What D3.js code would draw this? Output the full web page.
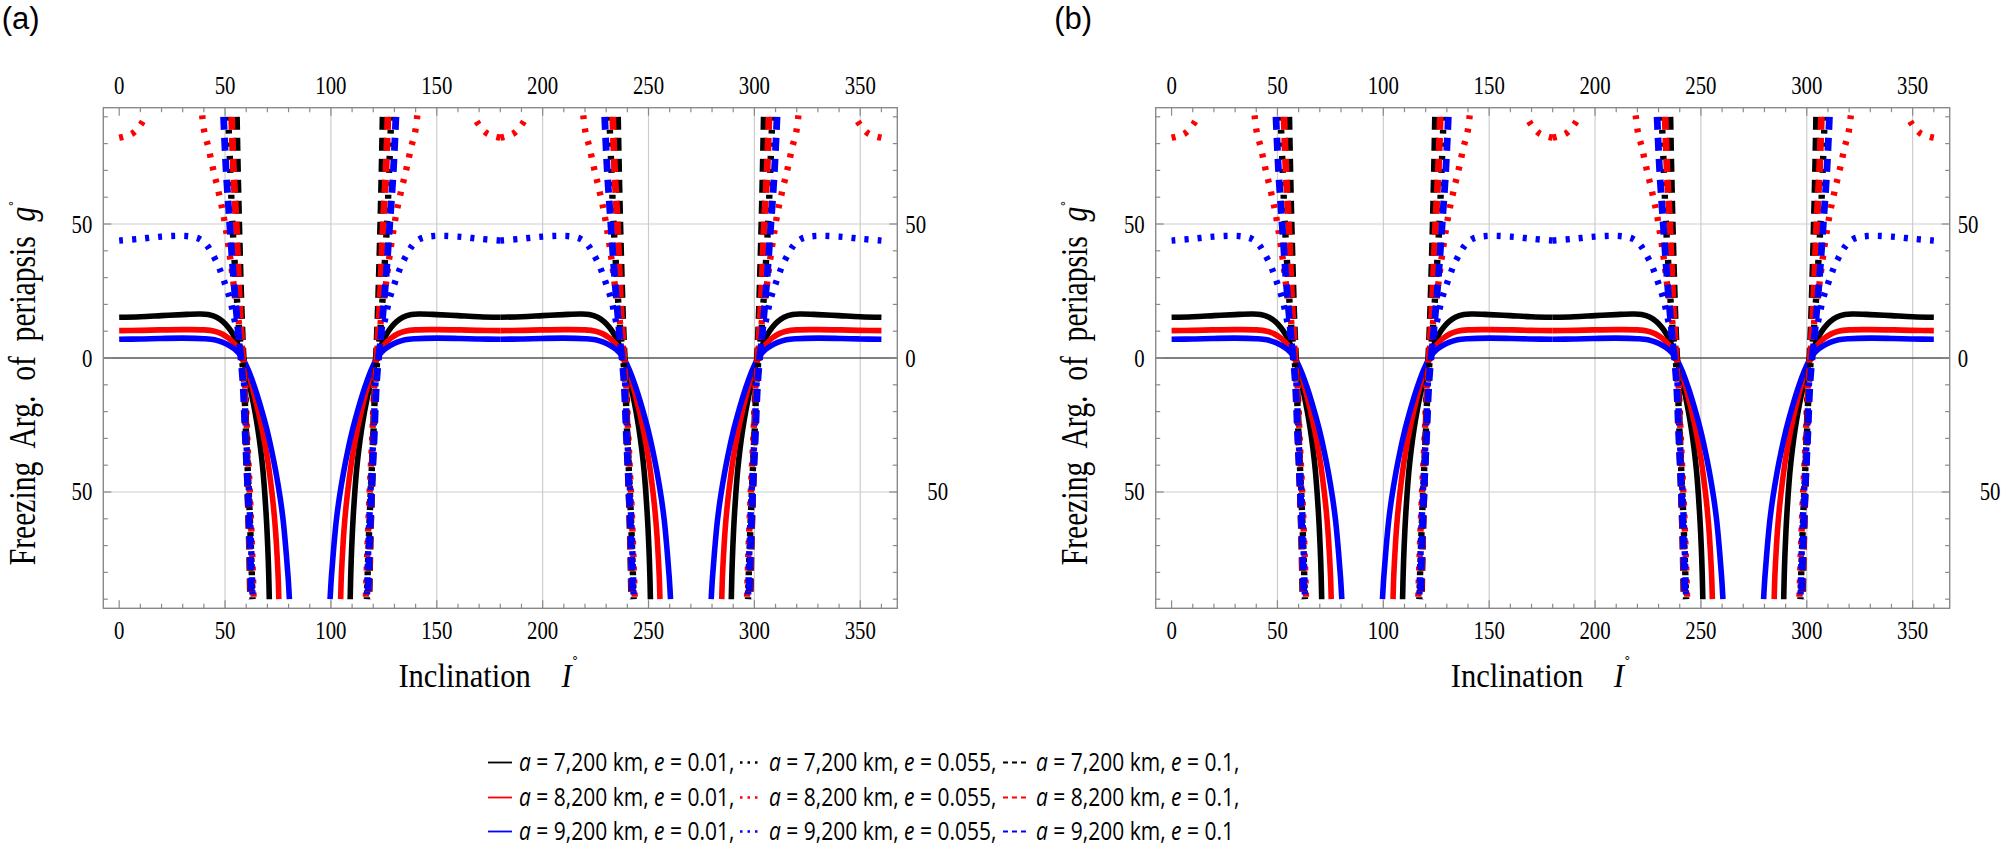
<!DOCTYPE html>
<html><head><meta charset="utf-8">
<script src="https://cdn.jsdelivr.net/npm/d3@7"></script>
<style>body{margin:0;background:#fff;} svg{display:block}</style>
</head><body>
<svg id="chart" width="2005" height="848"></svg>
<script>
// ================= DATA =================
// Tick values / labels (labels as printed in the figure: the minus sign is not shown)
const xTickValues = [0, 50, 100, 150, 200, 250, 300, 350];
const xTickLabels = ["0", "50", "100", "150", "200", "250", "300", "350"];
const yTickValues = [-50, 0, 50];
const yTickLabels = ["50", "0", "50"];

// Legend parameters
const aValues = ["7,200", "8,200", "9,200"];   // semi-major axis, km
const eValues = ["0.01", "0.055", "0.1"];      // eccentricity

// Curves, inclination I in [0, 90] (deg) vs frozen g (deg).
// The figure is symmetric: g(I) = g(180 - I) = g(180 + I) = g(360 - I).
// e = 0.01
const e001_a7200 = [[0,15.2],[10,15.4],[20,15.8],[30,16.2],[38,16.4],[42,16.2],[46,15.2],[49,13.6],[51.5,11.5],[53.5,9.2],[55.2,6.6],[56.7,3.8],[57.7,1.6],[58.3,0],[59.5,-3.5],[61,-8.2],[62.5,-13.5],[64,-19.5],[65.5,-26.5],[66.8,-34],[67.9,-42],[68.8,-51],[69.6,-61],[70.2,-71],[70.6,-80],[70.9,-90]];
const e001_a8200 = [[0,10.2],[10,10.3],[20,10.5],[30,10.6],[40,10.5],[45,10],[48.5,9],[51.5,7.5],[54,5.6],[56,3.6],[57.4,1.7],[58.3,0],[60,-3.5],[62,-8.5],[64,-14.5],[66,-21],[68,-28.5],[70,-37.5],[71.5,-46],[72.8,-55],[73.8,-64],[74.6,-74],[75.1,-82],[75.4,-90]];
const e001_a9200 = [[0,7],[10,7.1],[20,7.3],[30,7.4],[40,7.2],[45,6.8],[49,5.8],[52,4.6],[54.5,3.3],[56.5,1.8],[58.3,0],[60,-2.8],[62,-6.5],[64,-11],[66,-16],[68,-21.5],[70,-27.5],[72,-34.5],[74,-42.5],[76,-52],[77.5,-61],[78.8,-72],[79.8,-82],[80.4,-90]];
// e = 0.055
const e0055_a7200 = [[51.5,90],[52.5,70],[53.5,50],[55,30],[56.2,15],[57.3,5],[58,0],[59,-10],[60,-30],[61.2,-50],[62.2,-70],[63,-90]];
const e0055_a8200_top = [[0,82.2],[3,82.8],[6.6,84],[10.6,87.6],[12.5,90.5]];
const e0055_a8200 = [[39.2,90.5],[40.3,84],[42,79],[43.4,74],[44.8,69],[46.2,64.5],[47.7,59.3],[49.1,54],[50.4,48],[51.7,41.5],[53,34],[54.2,26.5],[55.5,19],[56.8,11.6],[57.8,5],[58.6,0],[59.5,-10],[60.5,-30],[61.7,-50],[62.7,-70],[63.5,-90]];
const e0055_a9200 = [[0,43.8],[10,44.5],[20,45.3],[28,45.6],[34,45.3],[38,44.4],[41,42.5],[43.5,39.5],[46.5,35],[48.5,31],[50.5,26.5],[52.5,21.5],[54,16],[55.5,10.4],[57,4.2],[58,0],[59,-10],[60,-30],[61.3,-50],[62.3,-70],[63,-90]];
// e = 0.1
const e01_a7200 = [[55.4,90],[55.9,70],[56.5,50],[57.2,30],[57.8,15],[58.3,5],[58.6,0],[59.2,-10],[60,-30],[60.8,-50],[61.5,-70],[62,-90]];
const e01_a8200 = [[53.1,90],[54,70],[55.3,50],[56.3,30],[57.2,15],[58,5],[58.3,0],[59,-10],[59.8,-30],[60.8,-50],[61.6,-70],[62.3,-90]];
const e01_a9200 = [[49.3,90],[50.5,70],[52.2,50],[54,30],[55.6,15],[56.8,5],[57.5,0],[58.5,-10],[59.6,-30],[60.8,-50],[61.8,-70],[62.5,-90]];

// series: a index, e index, segments
const seriesList = [
  {a:0, e:0, segs:[e001_a7200]},
  {a:1, e:0, segs:[e001_a8200]},
  {a:2, e:0, segs:[e001_a9200]},
  {a:0, e:1, segs:[e0055_a7200]},
  {a:1, e:1, segs:[e0055_a8200_top, e0055_a8200]},
  {a:2, e:1, segs:[e0055_a9200]},
  {a:0, e:2, segs:[e01_a7200]},
  {a:1, e:2, segs:[e01_a8200]},
  {a:2, e:2, segs:[e01_a9200]}
];
const panelLabels = ["(a)", "(b)"];

// ================= STYLE / LAYOUT =================
const colors = ["#000000", "#ff0000", "#0000ff"];
const lineWidth = [5.6, 6.4, 6.8];
const lineDash = [null, "4,9", "13,8"];
const legendDash = [null, "2.5,5", "5,4"];
const serif = "'Liberation Serif','Times New Roman',serif";
const sans = "'Open Sans','Noto Sans',sans-serif";

const xDomain = [-7.5, 367.5], yDomain = [-93.4, 93.4];
const plotTop = 107.7, plotBottom = 608.3;
const panelLeft = [103.3, 1155.7], plotW = 794;
const mirrors = [I => I, I => 180 - I, I => 180 + I, I => 360 - I];

const svg = d3.select("#chart");
svg.append("rect").attr("width", 2005).attr("height", 848).attr("fill", "#fff");

function txt(parent, x, y, sx, str, o = {}) {
  const t = parent.append("text")
    .attr("transform", `translate(${x},${y})${o.rot ? " rotate(" + o.rot + ")" : ""} scale(${sx},1)`)
    .attr("font-family", o.family || serif)
    .attr("font-size", o.size || 26)
    .attr("text-anchor", o.anchor || "start")
    .attr("fill", "#000");
  if (str !== null) t.text(str);
  return t;
}

panelLabels.forEach((lab, pi) => {
  const L = panelLeft[pi], R = L + plotW;
  const x = d3.scaleLinear().domain(xDomain).range([L, R]);
  const y = d3.scaleLinear().domain(yDomain).range([plotBottom, plotTop]);
  const g = svg.append("g");

  // grid
  g.selectAll("line.vg").data(xTickValues.filter(v => v !== 0)).join("line").attr("class", "vg")
    .attr("x1", d => x(d)).attr("x2", d => x(d)).attr("y1", plotTop).attr("y2", plotBottom)
    .attr("stroke", "#cdcdcd").attr("stroke-width", 1.2);
  g.selectAll("line.hg").data(yTickValues.filter(v => v !== 0)).join("line").attr("class", "hg")
    .attr("x1", L).attr("x2", R).attr("y1", d => y(d)).attr("y2", d => y(d))
    .attr("stroke", "#cdcdcd").attr("stroke-width", 1.2);
  g.append("line").attr("x1", L).attr("x2", R).attr("y1", y(0)).attr("y2", y(0))
    .attr("stroke", "#555").attr("stroke-width", 1.3);

  // curves
  const clipId = "clip" + pi;
  svg.append("clipPath").attr("id", clipId).append("rect")
    .attr("x", L).attr("y", plotTop).attr("width", plotW).attr("height", plotBottom - plotTop);
  const cg = g.append("g").attr("clip-path", `url(#${clipId})`);
  seriesList.forEach(s => {
    s.segs.forEach(seg => {
      mirrors.forEach(m => {
        const line = d3.line().x(d => x(m(d[0]))).y(d => y(d[1])).curve(d3.curveCatmullRom.alpha(0.5));
        cg.append("path").datum(seg).attr("d", line)
          .attr("fill", "none").attr("stroke", colors[s.a])
          .attr("stroke-width", lineWidth[s.e])
          .attr("stroke-dasharray", lineDash[s.e]);
      });
    });
  });

  // frame
  g.append("rect").attr("x", L).attr("y", plotTop).attr("width", plotW).attr("height", plotBottom - plotTop)
    .attr("fill", "none").attr("stroke", "#8a8a8a").attr("stroke-width", 1.4);
  const xMinor = d3.range(0, 361, 10), yMinor = d3.range(-90, 91, 10);
  const tk = v => (v % 50 === 0 ? 8 : 4.5);
  const tg = g.append("g").attr("stroke", "#8a8a8a").attr("stroke-width", 1.2);
  xMinor.forEach(v => {
    tg.append("line").attr("x1", x(v)).attr("x2", x(v)).attr("y1", plotTop).attr("y2", plotTop + tk(v));
    tg.append("line").attr("x1", x(v)).attr("x2", x(v)).attr("y1", plotBottom).attr("y2", plotBottom - tk(v));
  });
  yMinor.forEach(v => {
    tg.append("line").attr("x1", L).attr("x2", L + tk(v)).attr("y1", y(v)).attr("y2", y(v));
    tg.append("line").attr("x1", R).attr("x2", R - tk(v)).attr("y1", y(v)).attr("y2", y(v));
  });

  // tick labels
  xTickValues.forEach((v, i) => {
    txt(g, x(v), plotTop - 13.5, 0.8, xTickLabels[i], {anchor: "middle"});
    txt(g, x(v), plotBottom + 31, 0.8, xTickLabels[i], {anchor: "middle"});
  });
  yTickValues.forEach((v, i) => {
    txt(g, L - 11, y(v) + 8.5, 0.8, yTickLabels[i], {anchor: "end"});
    txt(g, R + 8 + (v < 0 ? 22 : 0), y(v) + 8.5, 0.8, yTickLabels[i], {anchor: "start"});
  });

  // axis titles
  const lt = txt(g, L - 68.5, 383, 0.8, null, {rot: -90, anchor: "middle", size: 37});
  lt.attr("xml:space", "preserve");
  lt.append("tspan").text("Freezing  Arg.  of  periapsis  ");
  lt.append("tspan").attr("font-style", "italic").text("g");
  lt.append("tspan").attr("dy", -11).attr("font-size", 22).text("\u02DA");
  const bt = txt(g, (L + R) / 2 - 12, plotBottom + 79, 0.9, null, {anchor: "middle", size: 34});
  bt.attr("xml:space", "preserve");
  bt.append("tspan").text("Inclination    ");
  bt.append("tspan").attr("font-style", "italic").text("I");
  bt.append("tspan").attr("dy", -16).attr("font-size", 22).text("\u02DA");

  // panel label
  txt(svg, L - 101.5, 28.5, 1, lab, {family: "'Liberation Sans',Arial,sans-serif", size: 31});
});

// ================= LEGEND =================
const legendRowY = [771, 806, 840];
const legendColX = [488, 740, 1003];
const legendSampleW = [24, 22, 26];
const lg = svg.append("g");
aValues.forEach((av, ai) => {
  eValues.forEach((ev, ei) => {
    const x0 = legendColX[ei], yb = legendRowY[ai];
    lg.append("line").attr("x1", x0).attr("x2", x0 + legendSampleW[ei])
      .attr("y1", yb - 8.5).attr("y2", yb - 8.5)
      .attr("stroke", colors[ai]).attr("stroke-width", ei === 1 ? 2.4 : 1.8)
      .attr("stroke-dasharray", legendDash[ei]);
    const t = txt(lg, x0 + legendSampleW[ei] + 7, yb, 0.84, null, {family: sans, size: 25});
    t.attr("xml:space", "preserve");
    t.append("tspan").attr("font-style", "italic").text("a");
    t.append("tspan").text(" = " + av + " km, ");
    t.append("tspan").attr("font-style", "italic").text("e");
    t.append("tspan").text(" = " + ev + (ai === 2 && ei === 2 ? "" : ","));
  });
});
</script>
</body></html>
